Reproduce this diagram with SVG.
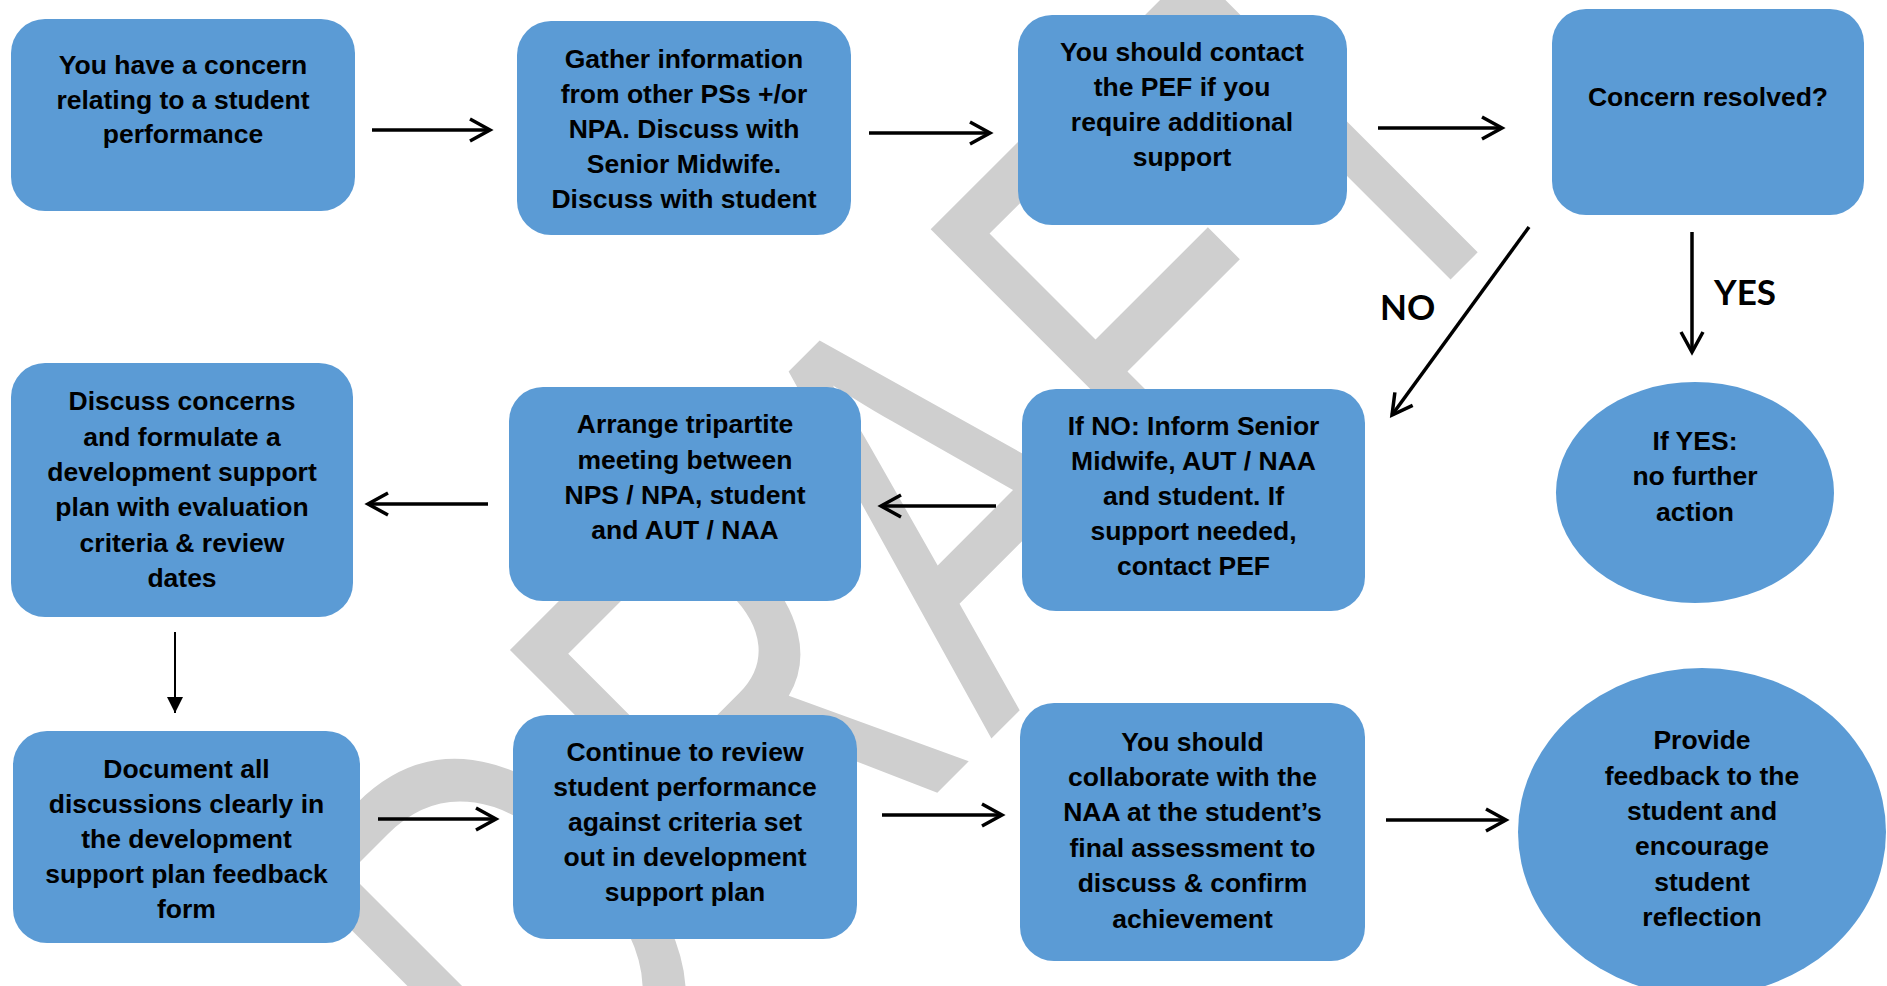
<svg xmlns="http://www.w3.org/2000/svg" width="1887" height="986" viewBox="0 0 1887 986">
<style>
.bx{fill:#5b9bd5}
.t{font-family:"Liberation Sans",Arial,sans-serif;font-weight:bold;font-size:26.5px;text-anchor:middle;fill:#000}
.lbl{font-family:Lato,"Liberation Sans",sans-serif;font-weight:bold;font-size:35px;fill:#000}
.wm{font-family:"Liberation Sans",Arial,sans-serif;font-size:414px;fill:#cfcfcf}
.c{stroke:#000;stroke-width:3.5;fill:none}
.thin{stroke:#000;stroke-width:2;fill:none}
</style>
<defs>
<marker id="open" markerUnits="userSpaceOnUse" viewBox="-24 -14 28 28" markerWidth="28" markerHeight="28" refX="0" refY="0" orient="auto" overflow="visible">
<path d="M-20,-11 L0,0 L-20,11" fill="none" stroke="#000" stroke-width="3.5"/>
</marker>
<marker id="tri" markerUnits="userSpaceOnUse" viewBox="-18 -10 20 20" markerWidth="20" markerHeight="20" refX="0" refY="0" orient="auto" overflow="visible">
<path d="M-16,-8 L0,0 L-16,8 Z" fill="#000"/>
</marker>
</defs>
<rect width="1887" height="986" fill="#fff"/>
<g id="watermark">
<text class="wm" transform="translate(539.7,1190.3) rotate(-45) scale(1,1.415)" x="17 327 638 922 1181" y="0">DRAFT</text>
</g>
<g id="connectors">
<line class="c" x1="372" y1="130" x2="490" y2="130" marker-end="url(#open)"/>
<line class="c" x1="869" y1="133" x2="990" y2="133" marker-end="url(#open)"/>
<line class="c" x1="1378" y1="128" x2="1502" y2="128" marker-end="url(#open)"/>
<line class="c" x1="1529" y1="227" x2="1392" y2="415" stroke-width="3" marker-end="url(#open)"/>
<line class="c" x1="1692" y1="232" x2="1692" y2="352" marker-end="url(#open)"/>
<line class="c" x1="996" y1="506" x2="881" y2="506" marker-end="url(#open)"/>
<line class="c" x1="488" y1="504" x2="368" y2="504" marker-end="url(#open)"/>
<line class="thin" x1="175" y1="632" x2="175" y2="713" marker-end="url(#tri)"/>
<line class="c" x1="378" y1="819" x2="496" y2="819" marker-end="url(#open)"/>
<line class="c" x1="882" y1="815" x2="1002" y2="815" marker-end="url(#open)"/>
<line class="c" x1="1386" y1="820" x2="1506" y2="820" marker-end="url(#open)"/>
<text class="lbl" x="1380" y="320">NO</text>
<text class="lbl" x="1714" y="305">YES</text>
</g>
<g id="n1">
<rect class="bx" x="11" y="19" width="344" height="192" rx="34"/>
<text class="t"><tspan x="183" y="74">You have a concern</tspan><tspan x="183" y="108.7">relating to a student</tspan><tspan x="183" y="143.4">performance</tspan></text>
</g>
<g id="n2">
<rect class="bx" x="517" y="21" width="334" height="214" rx="34"/>
<text class="t"><tspan x="684" y="68">Gather information</tspan><tspan x="684" y="103">from other PSs +/or</tspan><tspan x="684" y="138">NPA. Discuss with</tspan><tspan x="684" y="173">Senior Midwife.</tspan><tspan x="684" y="208">Discuss with student</tspan></text>
</g>
<g id="n3">
<rect class="bx" x="1018" y="15" width="329" height="210" rx="34"/>
<text class="t"><tspan x="1182" y="61">You should contact</tspan><tspan x="1182" y="96">the PEF if you</tspan><tspan x="1182" y="131">require additional</tspan><tspan x="1182" y="166">support</tspan></text>
</g>
<g id="n4">
<rect class="bx" x="1552" y="9" width="312" height="206" rx="34"/>
<text class="t"><tspan x="1708" y="106">Concern resolved?</tspan></text>
</g>
<g id="n5">
<rect class="bx" x="11" y="363" width="342" height="254" rx="34"/>
<text class="t"><tspan x="182" y="410">Discuss concerns</tspan><tspan x="182" y="445.5">and formulate a</tspan><tspan x="182" y="481">development support</tspan><tspan x="182" y="516">plan with evaluation</tspan><tspan x="182" y="551.5">criteria &amp; review</tspan><tspan x="182" y="587">dates</tspan></text>
</g>
<g id="n6">
<rect class="bx" x="509" y="387" width="352" height="214" rx="34"/>
<text class="t"><tspan x="685" y="433">Arrange tripartite</tspan><tspan x="685" y="468.5">meeting between</tspan><tspan x="685" y="504">NPS / NPA, student</tspan><tspan x="685" y="539">and AUT / NAA</tspan></text>
</g>
<g id="n7">
<rect class="bx" x="1022" y="389" width="343" height="222" rx="34"/>
<text class="t"><tspan x="1193.5" y="435">If NO: Inform Senior</tspan><tspan x="1193.5" y="470">Midwife, AUT / NAA</tspan><tspan x="1193.5" y="505">and student. If</tspan><tspan x="1193.5" y="540">support needed,</tspan><tspan x="1193.5" y="575">contact PEF</tspan></text>
</g>
<g id="n8">
<ellipse class="bx" cx="1695" cy="492.5" rx="139" ry="110.5"/>
<text class="t"><tspan x="1695" y="450">If YES:</tspan><tspan x="1695" y="485">no further</tspan><tspan x="1695" y="521">action</tspan></text>
</g>
<g id="n9">
<rect class="bx" x="13" y="731" width="347" height="212" rx="34"/>
<text class="t"><tspan x="186.5" y="778">Document all</tspan><tspan x="186.5" y="813">discussions clearly in</tspan><tspan x="186.5" y="848">the development</tspan><tspan x="186.5" y="883">support plan feedback</tspan><tspan x="186.5" y="918">form</tspan></text>
</g>
<g id="n10">
<rect class="bx" x="513" y="715" width="344" height="224" rx="34"/>
<text class="t"><tspan x="685" y="761">Continue to review</tspan><tspan x="685" y="796">student performance</tspan><tspan x="685" y="831">against criteria set</tspan><tspan x="685" y="866">out in development</tspan><tspan x="685" y="901">support plan</tspan></text>
</g>
<g id="n11">
<rect class="bx" x="1020" y="703" width="345" height="258" rx="34"/>
<text class="t"><tspan x="1192.5" y="751">You should</tspan><tspan x="1192.5" y="786">collaborate with the</tspan><tspan x="1192.5" y="821">NAA at the student’s</tspan><tspan x="1192.5" y="857">final assessment to</tspan><tspan x="1192.5" y="892">discuss &amp; confirm</tspan><tspan x="1192.5" y="928">achievement</tspan></text>
</g>
<g id="n12">
<ellipse class="bx" cx="1702" cy="832" rx="184" ry="164"/>
<text class="t"><tspan x="1702" y="749">Provide</tspan><tspan x="1702" y="784.5">feedback to the</tspan><tspan x="1702" y="820">student and</tspan><tspan x="1702" y="855">encourage</tspan><tspan x="1702" y="890.5">student</tspan><tspan x="1702" y="926">reflection</tspan></text>
</g>
</svg>
